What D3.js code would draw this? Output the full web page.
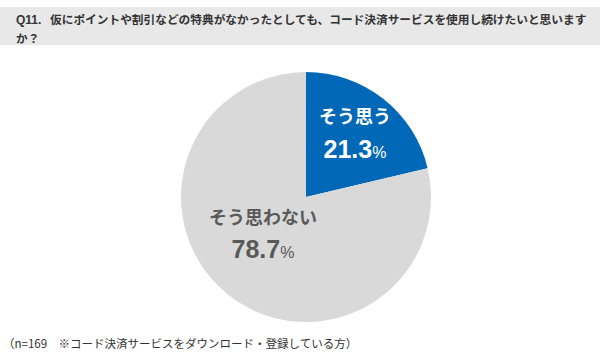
<!DOCTYPE html>
<html><head><meta charset="utf-8">
<script src="https://cdn.jsdelivr.net/npm/d3@7"></script>
<style>
html,body{margin:0;padding:0;background:#fff;}
svg{display:block;font-family:"Noto Sans CJK JP","Noto Sans",sans-serif;}
</style></head>
<body><svg id="c" width="600" height="358"></svg>
<script>
const categories = ["そう思う", "そう思わない"];
const values = [21.3, 78.7];
const colors = ["#0068b7", "#d9d9d9"];
const labelColors = ["#ffffff", "#595959"];
const titleQ = "Q11.";
const titleLines = ["仮にポイントや割引などの特典がなかったとしても、コード決済サービスを使用し続けたいと思います", "か？"];
const note = "（n=169　※コード決済サービスをダウンロード・登録している方）";

const svg = d3.select("#c");
svg.append("rect").attr("x",0).attr("y",7).attr("width",600).attr("height",38).attr("fill","#e8e8e8");
svg.append("text").attr("x",16).attr("y",24).attr("font-size",12).attr("font-weight","bold").attr("fill","#333")
  .attr("font-family","Liberation Sans, Arial, sans-serif").text(titleQ);
svg.selectAll("text.title").data(titleLines).enter().append("text").attr("class","title")
  .attr("x",(d,i)=>i===0?50:16).attr("y",(d,i)=>24+i*19).attr("font-size",11.7).attr("font-weight","bold").attr("fill","#333").text(d=>d);

const cx=306, cy=197, r=125;
const pie = d3.pie().sort(null).value(d=>d)(values);
const arc = d3.arc().innerRadius(0).outerRadius(r);
const g = svg.append("g").attr("transform",`translate(${cx},${cy})`);
g.selectAll("path").data(pie).enter().append("path").attr("d",arc).attr("fill",(d,i)=>colors[i]);

const labelPos = [[49,-74,-39],[-43,27,61]];
pie.forEach((p,i)=>{
  const [lx,ly,ny]=labelPos[i];
  g.append("text").attr("x",lx).attr("y",ly).attr("text-anchor","middle").attr("font-size",18).attr("font-weight","bold").attr("fill",labelColors[i]).text(categories[i]);
  const t = g.append("text").attr("x",lx).attr("y",ny).attr("text-anchor","middle").attr("font-weight","bold").attr("fill",labelColors[i]).attr("font-family","Liberation Sans, Arial, sans-serif");
  t.append("tspan").attr("font-size",25).text(values[i].toFixed(1));
  t.append("tspan").attr("font-size",16).attr("font-weight","normal").text("%");
});

svg.append("text").attr("x",3).attr("y",348).attr("font-size",11.5).attr("fill","#333").text(note);
</script></body></html>
